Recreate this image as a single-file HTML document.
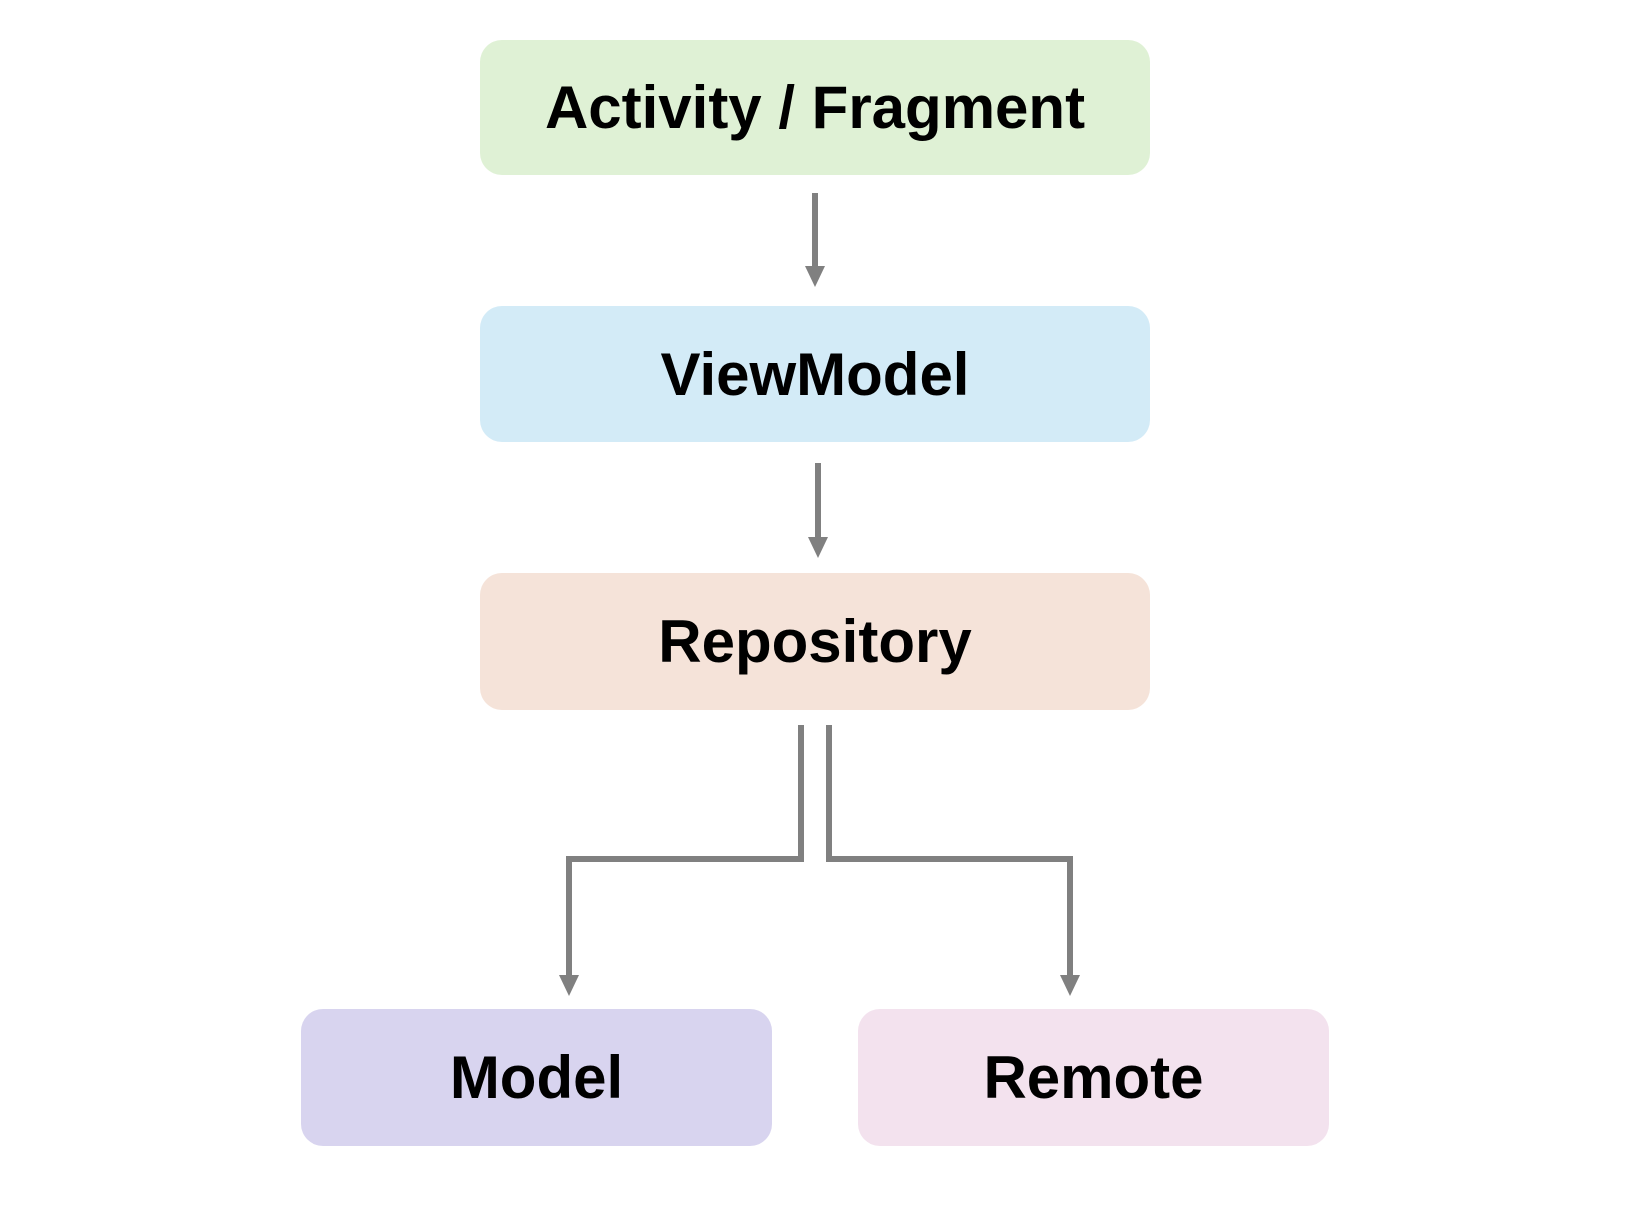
<!DOCTYPE html>
<html><head><meta charset="utf-8"><style>
body{margin:0;width:1632px;height:1206px;background:#fff;position:relative;overflow:hidden;font-family:"Liberation Sans",sans-serif;}
.b{position:absolute;border-radius:22px;display:flex;align-items:center;justify-content:center;font-weight:bold;font-size:60px;color:#000;letter-spacing:0px;}
svg{position:absolute;left:0;top:0;}
</style></head><body>
<div class="b" style="left:480px;top:40px;width:670px;height:135px;background:#dff1d5;">Activity / Fragment</div>
<div class="b" style="left:480px;top:306px;width:670px;height:136px;background:#d3ebf7;">ViewModel</div>
<div class="b" style="left:480px;top:573px;width:670px;height:137px;background:#f5e3d9;">Repository</div>
<div class="b" style="left:301px;top:1009px;width:471px;height:137px;background:#d8d4ef;">Model</div>
<div class="b" style="left:858px;top:1009px;width:471px;height:137px;background:#f3e2ee;">Remote</div>
<svg width="1632" height="1206">
<g stroke="#808080" stroke-width="6" fill="none">
<path d="M815 193V275"/>
<path d="M818 463V546"/>
<path d="M801 725V859H569V984"/>
<path d="M829 725V859H1070V984"/>
</g>
<g fill="#808080">
<path d="M805 266L825 266L815 287Z"/>
<path d="M808 537L828 537L818 558Z"/>
<path d="M559 975L579 975L569 996Z"/>
<path d="M1060 975L1080 975L1070 996Z"/>
</g>
</svg>
</body></html>
